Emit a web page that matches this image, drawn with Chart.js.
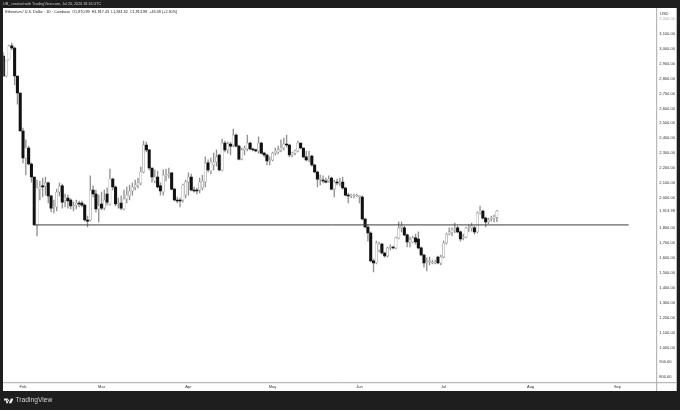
<!DOCTYPE html>
<html><head><meta charset="utf-8">
<style>
html,body{margin:0;padding:0;width:680px;height:410px;overflow:hidden;background:#1e1e1e}
canvas{position:absolute;left:0;top:0}
.t{position:absolute;white-space:nowrap;font-family:"Liberation Sans",Arial,sans-serif;line-height:1}
</style></head><body>
<canvas id="c" width="680" height="410"></canvas>
<div class="t" style="left:3px;top:3px;font-size:3.7px;color:#c8c8c8">UB_ created with TradingView.com, Jul 20, 2026 18:16 UTC</div>
<div class="t" style="left:5.3px;top:10.8px;font-size:3.75px;color:#222">Ethereum / U.S. Dollar · 1D · Coinbase &nbsp;O1,870.99 &nbsp;H1,917.43 &nbsp;L1,841.52 &nbsp;C1,913.98 &nbsp;+43.09 (+2.30%)</div>
<div class="t" style="left:660px;top:11.8px;font-size:4px;color:#333">USD</div>
<svg style="position:absolute;left:3.6px;top:397.5px" width="9.5" height="6.5" viewBox="0 0 36 20"><path fill="#e6e6e6" d="M0 0h15v18H8V7H0zM26 0h10l-8 18H18zM16 3a3.500 3.500 0 1 0 0.010 0z"/></svg>
<div class="t" style="left:15.5px;top:397.2px;font-size:6.7px;color:#d4d4d4">TradingView</div>
<script src="https://cdn.jsdelivr.net/npm/chart.js@4/dist/chart.umd.min.js"></script>
<script>
const firstDay = "2026-01-25";
const dayCount = 234;
const monthDates = ["2026-02-01","2026-03-01","2026-04-01","2026-05-01","2026-06-01","2026-07-01","2026-08-01","2026-09-01"];
const monthNames = ["Feb","Mar","Apr","May","Jun","Jul","Aug","Sep"];
const priceTicks = [800,900,1000,1100,1200,1300,1400,1500,1600,1700,1800,1913.98,2000,2100,2200,2300,2400,2500,2600,2700,2800,2900,3000,3100,3200];
const levelPrice = 1820;
const levelStart = "2026-02-05";
const levelEnd = "2026-09-05";

const opens = [2951,2817,2924,3018,3004,2817,2703,2449,2268,2335,2228,2141,1820,2060,2081,2081,2101,2014,1940,1940,
2040,2081,1987,2000,1987,1947,1953,1967,1967,1953,1853,1853,2054,2027,1927,1960,1933,2027,1960,2127,
2074,1960,1967,1927,1994,2014,2047,2074,2087,2101,2174,2355,2322,2201,2114,2141,2081,2040,2148,2154,
2168,2060,1987,1987,1987,2020,2107,2141,2054,2054,2054,2067,2107,2235,2181,2221,2241,2288,2188,2368,
2322,2362,2355,2422,2348,2261,2322,2328,2368,2328,2322,2315,2368,2301,2288,2248,2255,2301,2308,2322,
2335,2362,2355,2288,2301,2315,2368,2335,2275,2268,2281,2221,2174,2127,2121,2114,2114,2134,2060,2107,
2101,2107,2067,2020,2014,2014,2014,2007,2007,1860,1806,1766,1579,1565,1652,1692,1632,1612,1666,1672,
1666,1733,1800,1800,1753,1706,1706,1733,1726,1666,1619,1565,1572,1565,1565,1605,1565,1605,1699,1759,
1773,1786,1800,1773,1733,1739,1800,1800,1800,1773,1900,1913,1866,1840,1860,1866,1870.99];
const closes = [2817,2924,3018,3004,2817,2703,2449,2268,2335,2228,2141,1820,2067,2074,2074,2101,2014,1933,1947,2040,
2081,1973,2000,1980,1947,1953,1967,1960,1953,1853,1846,2054,2027,1927,1947,1933,1987,1973,2127,2074,
1960,1967,1933,1994,2020,2047,2074,2087,2101,2174,2355,2322,2201,2141,2141,2074,2047,2154,2154,2161,
2060,1987,1980,1980,2087,2107,2141,2054,2047,2047,2107,2114,2235,2188,2241,2241,2275,2188,2368,2322,
2362,2348,2422,2348,2261,2322,2335,2368,2328,2322,2315,2368,2301,2288,2248,2255,2301,2315,2322,2335,
2362,2355,2288,2301,2315,2368,2335,2275,2255,2275,2221,2174,2127,2134,2114,2107,2127,2060,2107,2101,
2107,2067,2020,2014,2020,2020,2020,2014,1860,1806,1766,1579,1565,1699,1692,1632,1612,1666,1672,1666,
1733,1800,1813,1753,1706,1719,1733,1706,1666,1619,1565,1572,1579,1572,1572,1565,1605,1699,1759,1773,
1786,1793,1773,1726,1739,1800,1806,1813,1773,1900,1913,1866,1840,1853,1866,1871,1913.98];
const highs = [2977,2924,3024,3038,3011,2817,2703,2469,2389,2348,2235,2141,2121,2114,2134,2141,2107,2014,1987,2060,
2101,2094,2027,2020,1994,1973,1987,1980,1980,1960,1880,2148,2081,2054,2020,2040,2054,2067,2194,2134,
2081,2000,2014,2054,2074,2087,2101,2121,2134,2208,2382,2375,2322,2201,2188,2181,2101,2188,2194,2201,
2168,2067,2007,2000,2094,2121,2168,2161,2074,2067,2134,2154,2275,2255,2268,2301,2322,2295,2395,2382,
2375,2375,2462,2429,2355,2335,2348,2422,2375,2335,2328,2409,2375,2308,2295,2275,2308,2335,2348,2389,
2402,2422,2362,2308,2322,2382,2368,2335,2315,2315,2288,2228,2181,2154,2148,2134,2148,2141,2121,2127,
2134,2141,2074,2034,2027,2027,2027,2014,2014,1866,1820,1773,1592,1712,1706,1699,1639,1672,1686,1679,
1739,1840,1840,1813,1759,1739,1746,1759,1773,1672,1625,1599,1605,1585,1585,1612,1619,1712,1766,1800,
1800,1833,1813,1779,1759,1806,1820,1833,1813,1907,1947,1920,1873,1866,1880,1886,1917.43];
const lows = [2810,2810,2924,2991,2757,2629,2449,2235,2154,2221,2107,1820,1746,1987,2007,2020,1967,1907,1900,1913,
2014,1933,1940,1933,1927,1913,1927,1940,1940,1846,1806,1846,2007,1907,1840,1920,1920,1953,1953,2054,
1947,1933,1920,1920,1967,1987,2020,2054,2067,2087,2168,2308,2188,2107,2101,2067,2020,2020,2114,2134,
2054,1980,1967,1940,1973,2000,2020,2047,2040,2027,2034,2054,2074,2174,2161,2188,2214,2181,2181,2308,
2301,2288,2342,2342,2255,2255,2288,2315,2322,2315,2308,2301,2295,2275,2221,2221,2248,2288,2295,2308,
2322,2342,2275,2275,2288,2308,2328,2268,2248,2241,2214,2168,2074,2087,2101,2101,2107,2054,2007,2087,
2081,2060,2014,1967,2000,2000,2007,1967,1853,1800,1712,1572,1505,1559,1639,1625,1605,1605,1652,1659,
1659,1726,1773,1746,1672,1672,1699,1692,1659,1612,1538,1512,1552,1559,1559,1559,1552,1599,1692,1753,
1746,1766,1766,1712,1719,1733,1773,1779,1759,1766,1893,1860,1806,1826,1846,1840,1841.52];

const dayLabels = [];
{ const d = new Date(firstDay + "T00:00:00Z");
  for (let i = 0; i < dayCount; i++) { dayLabels.push(d.toISOString().slice(0,10)); d.setUTCDate(d.getUTCDate()+1); } }

const isUp = i => closes[i] >= opens[i];
const pick = (i,a,b) => i < opens.length && isUp(i) ? a : b;

const framePlugin = {
  id:"frame",
  beforeDraw(ch){
    const g = ch.ctx;
    g.save();
    g.fillStyle="#1e1e1e"; g.fillRect(0,0,680,410);
    g.fillStyle="#ffffff"; g.fillRect(3,8,673.7,383);
    g.restore();
  },
  afterDraw(ch){
    const g = ch.ctx, a = ch.chartArea;
    g.save();
    g.strokeStyle="#a8a8a8"; g.lineWidth=1;
    g.beginPath();
    g.moveTo(a.right,8); g.lineTo(a.right,391);
    g.moveTo(3,a.bottom); g.lineTo(676.7,a.bottom);
    g.stroke();
    g.restore();
  }
};

new Chart(document.getElementById("c"),{
  data:{
    labels:dayLabels,
    datasets:[
      {type:"line",order:0,data:[{x:levelStart,y:levelPrice},{x:levelEnd,y:levelPrice}],
       borderColor:"#3c3c3c",borderWidth:1,pointRadius:0,tension:0},
      {type:"bar",order:1,grouped:false,barThickness:2.4,
       data:opens.map((o,i)=>[o,closes[i]]),
       backgroundColor:c=>pick(c.dataIndex,"#ffffff","#111111"),
       borderColor:c=>pick(c.dataIndex,"#989898","#111111"),
       borderWidth:c=>pick(c.dataIndex,0.6,0),
       borderSkipped:false,minBarLength:0.7},
      {type:"bar",order:2,grouped:false,barThickness:0.7,
       data:lows.map((l,i)=>[l,highs[i]]),
       backgroundColor:"#929292",borderWidth:0}
    ]
  },
  options:{
    responsive:false,animation:false,
    layout:{padding:{left:3.4,top:8,right:0,bottom:0}},
    plugins:{legend:{display:false},tooltip:{enabled:false},title:{display:false}},
    scales:{
      x:{type:"category",offset:false,
         grid:{display:false,drawTicks:false,tickLength:0},border:{display:false},
         afterFit(s){s.height=27.3;},
         ticks:{autoSkip:false,maxRotation:0,minRotation:0,padding:2,color:"#333",
                font:{family:"Liberation Sans",size:4},
                callback(v){const m=monthDates.indexOf(this.getLabelForValue(v));return m<0?"":monthNames[m];}}},
      y:{type:"linear",position:"right",min:764,max:3272,
         grid:{display:false,drawTicks:false,tickLength:0},border:{display:false},
         afterFit(s){s.width=23.3;},
         afterBuildTicks(s){s.ticks=priceTicks.map(v=>({value:v}));},
         ticks:{autoSkip:false,padding:2.6,
                color:c=>c.tick&&c.tick.value===3200?"#aaaaaa":"#333333",
                font:{family:"Liberation Sans",size:4},
                callback:v=>v.toLocaleString("en-US",{minimumFractionDigits:2,maximumFractionDigits:2})}}
    }
  },
  plugins:[framePlugin]
});
</script>
</body></html>
